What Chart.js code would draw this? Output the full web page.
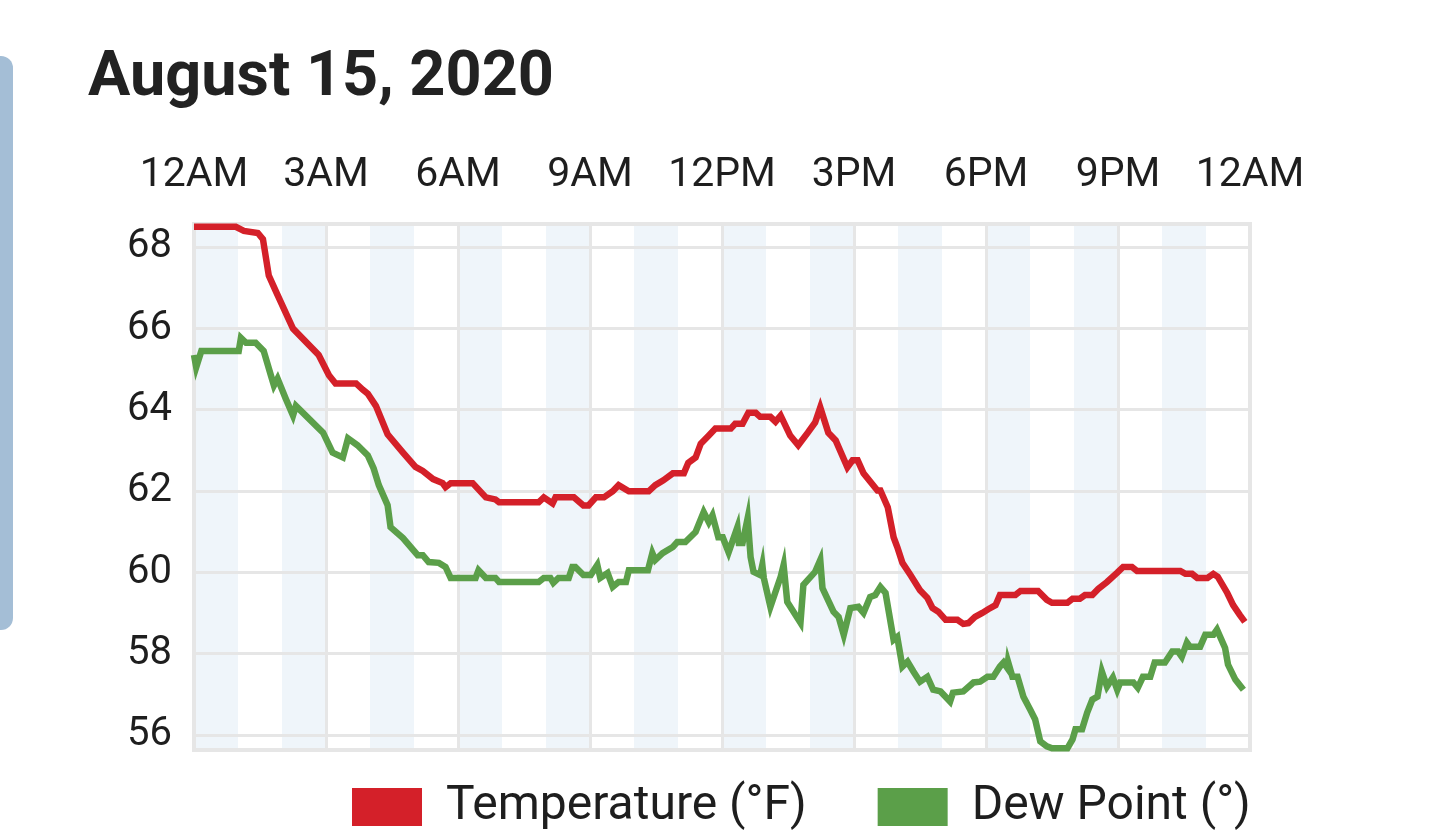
<!DOCTYPE html>
<html>
<head>
<meta charset="utf-8">
<script src="https://cdn.jsdelivr.net/npm/chart.js@4.4.1/dist/chart.umd.min.js"></script>
<style>
  html, body { margin: 0; padding: 0; background: #ffffff; width: 1436px; height: 838px; overflow: hidden; }
  #side { position: absolute; left: 0; top: 56px; width: 13px; height: 574px; background: #a4bed6; border-radius: 0 12px 12px 0; }
  #wrap { position: absolute; left: 0; top: 0; width: 1436px; height: 838px; }
  #title { position: absolute; left: 88px; top: 42px; margin: 0; font-family: Roboto, sans-serif; font-weight: 700; font-size: 63px; line-height: 63px; color: #222222; white-space: nowrap; z-index: 2; }
</style>
</head>
<body>
<div id="side"></div>
<div id="wrap"><canvas id="chart" width="1436" height="838"></canvas></div>
<h1 id="title">August 15, 2020</h1>
<script>
// X axis: minutes since midnight; tick labels every 3 hours
const tickLabels = ['12AM', '3AM', '6AM', '9AM', '12PM', '3PM', '6PM', '9PM', '12AM'];
const seriesNames = ['Temperature (°F)', 'Dew Point (°)'];
const seriesColors = ['#d42029', '#5b9f49'];

const tempMinutes = [0, 57, 68, 87, 94, 102, 112, 135, 170, 184,
  193, 221, 230, 237, 248, 264, 285, 302, 312, 326,
  339, 343, 350, 380, 398, 411, 416, 470, 477, 489,
  493, 518, 531, 538, 548, 559, 571, 579, 593, 620,
  629, 640, 653, 668, 674, 684, 691, 702, 711, 732,
  738, 748, 756, 766, 772, 786, 793, 800, 813, 824,
  837, 847, 854, 865, 875, 891, 898, 905, 913, 932,
  936, 946, 954, 959, 966, 977, 990, 1000, 1007, 1015,
  1025, 1041, 1049, 1056, 1065, 1075, 1083, 1093, 1099, 1120,
  1127, 1151, 1163, 1170, 1191, 1198, 1208, 1215, 1225, 1233,
  1245, 1259, 1267, 1279, 1286, 1345, 1352, 1361, 1368, 1382,
  1390, 1396, 1409, 1417, 1426, 1433];
const tempValues = [68.5, 68.5, 68.4, 68.35, 68.2, 67.3, 66.9, 66.0, 65.35, 64.85,
  64.65, 64.65, 64.5, 64.4, 64.1, 63.4, 62.95, 62.6, 62.5, 62.3,
  62.2, 62.1, 62.2, 62.2, 61.85, 61.8, 61.73, 61.73, 61.85, 61.7,
  61.85, 61.85, 61.65, 61.65, 61.85, 61.85, 62.0, 62.15, 62.0, 62.0,
  62.15, 62.27, 62.44, 62.44, 62.7, 62.83, 63.17, 63.37, 63.54, 63.54,
  63.66, 63.66, 63.93, 63.93, 63.83, 63.83, 63.71, 63.86, 63.37, 63.13,
  63.44, 63.69, 64.06, 63.44, 63.25, 62.59, 62.76, 62.76, 62.44, 62.02,
  62.02, 61.61, 60.87, 60.63, 60.24, 59.94, 59.57, 59.38, 59.13, 59.04,
  58.84, 58.84, 58.74, 58.76, 58.91, 59.01, 59.1, 59.2, 59.45, 59.45,
  59.55, 59.55, 59.33, 59.26, 59.26, 59.36, 59.36, 59.45, 59.45, 59.6,
  59.77, 60.0, 60.14, 60.14, 60.04, 60.04, 59.97, 59.97, 59.87, 59.87,
  59.97, 59.9, 59.5, 59.2, 58.96, 58.79];

const dewMinutes = [0, 3, 10, 61, 64, 71, 84, 95, 105, 109,
  114, 125, 135, 139, 176, 189, 203, 210, 223, 237,
  245, 252, 264, 268, 285, 305, 312, 320, 334, 343,
  350, 384, 388, 398, 411, 416, 470, 477, 486, 490,
  497, 511, 516, 520, 531, 541, 550, 554, 564, 571,
  579, 589, 593, 619, 625, 629, 639, 653, 659, 670,
  684, 695, 702, 707, 715, 721, 729, 741, 743, 748,
  755, 759, 763, 772, 775, 777, 786, 800, 804, 809,
  827, 831, 847, 854, 857, 872, 879, 886, 895, 906,
  913, 922, 929, 936, 943, 954, 959, 966, 973, 981,
  990, 1000, 1008, 1018, 1031, 1035, 1049, 1063, 1072, 1082,
  1090, 1099, 1104, 1109, 1110, 1116, 1123, 1131, 1140, 1147,
  1154, 1163, 1170, 1191, 1198, 1202, 1211, 1218, 1225, 1232,
  1238, 1245, 1253, 1259, 1263, 1281, 1287, 1294, 1304, 1310,
  1324, 1334, 1342, 1347, 1354, 1358, 1372, 1379, 1390, 1395,
  1406, 1410, 1420, 1431];
const dewValues = [65.35, 65.05, 65.45, 65.45, 65.77, 65.65, 65.65, 65.45, 64.84, 64.6,
  64.77, 64.28, 63.86, 64.1, 63.44, 62.95, 62.83, 63.3, 63.13, 62.88,
  62.56, 62.15, 61.66, 61.12, 60.85, 60.43, 60.43, 60.26, 60.24, 60.14,
  59.87, 59.87, 60.06, 59.87, 59.87, 59.77, 59.77, 59.87, 59.87, 59.75,
  59.87, 59.87, 60.14, 60.14, 59.94, 59.94, 60.19, 59.87, 59.99, 59.65,
  59.77, 59.77, 60.06, 60.06, 60.48, 60.31, 60.48, 60.63, 60.75, 60.75,
  61.0, 61.49, 61.24, 61.41, 60.87, 60.87, 60.5, 61.12, 60.73, 60.73,
  61.34, 60.38, 60.02, 59.94, 60.19, 59.87, 59.16, 59.9, 60.19, 59.28,
  58.77, 59.7, 60.02, 60.31, 59.62, 59.04, 58.91, 58.47, 59.13, 59.16,
  59.01, 59.4, 59.45, 59.65, 59.5, 58.35, 58.42, 57.69, 57.81, 57.57,
  57.32, 57.44, 57.12, 57.08, 56.83, 57.05, 57.08, 57.3, 57.32, 57.44,
  57.44, 57.69, 57.79, 57.66, 57.81, 57.44, 57.44, 56.95, 56.64, 56.39,
  55.85, 55.73, 55.68, 55.68, 55.9, 56.15, 56.15, 56.56, 56.88, 56.95,
  57.57, 57.2, 57.42, 57.12, 57.3, 57.3, 57.17, 57.44, 57.44, 57.79,
  57.79, 58.06, 58.06, 57.93, 58.28, 58.18, 58.18, 58.47, 58.47, 58.6,
  58.15, 57.74, 57.37, 57.12];

const toPoints = (xs, ys) => xs.map((x, i) => ({ x: x, y: ys[i] }));

const bandsPlugin = {
  id: 'bands',
  beforeDraw(chart) {
    const { ctx, chartArea: a, scales: { x } } = chart;
    ctx.save();
    ctx.fillStyle = '#eff5fa';
    for (let h = 0; h < 24; h += 2) {
      const x1 = x.getPixelForValue(h * 60);
      const x2 = x.getPixelForValue((h + 1) * 60);
      ctx.fillRect(x1, a.top, x2 - x1, a.bottom - a.top);
    }
    ctx.restore();
    // place the legend row
    const lg = chart.legend;
    if (lg) {
      lg.left = 281; lg.right = 1436; lg.top = 712; lg.bottom = 838;
    }
  },
  beforeDatasetsDraw(chart) {
    const { ctx, chartArea: a } = chart;
    ctx.save();
    ctx.strokeStyle = '#e6e6e6';
    ctx.lineWidth = 4;
    ctx.strokeRect(a.left, a.top, a.right - a.left, a.bottom - a.top);
    ctx.restore();
  }
};

const labelFont = { family: 'Roboto', size: 41 };

new Chart(document.getElementById('chart'), {
  type: 'line',
  data: {
    datasets: [
      { label: seriesNames[0], data: toPoints(tempMinutes, tempValues), borderColor: seriesColors[0], backgroundColor: seriesColors[0], borderWidth: 6.5, pointRadius: 0, tension: 0, clip: false },
      { label: seriesNames[1], data: toPoints(dewMinutes, dewValues), borderColor: seriesColors[1], backgroundColor: seriesColors[1], borderWidth: 6.5, pointRadius: 0, tension: 0, clip: false }
    ]
  },
  options: {
    responsive: false,
    animation: false,
    devicePixelRatio: 1,
    layout: { padding: { left: 0, right: 186, top: 130, bottom: 0 } },
    scales: {
      x: {
        type: 'linear', position: 'top', min: 0, max: 1440,
        afterFit: (s) => { s.height = 94; },
        ticks: { stepSize: 180, autoSkip: false, maxRotation: 0, minRotation: 0, padding: 24, color: '#1e1e1e', font: labelFont,
          callback: (v) => tickLabels[Math.round(v / 180)] },
        grid: { color: '#e6e6e6', lineWidth: 3, drawTicks: false },
        border: { display: false }
      },
      y: {
        min: 55.64, max: 68.57,
        afterFit: (s) => { s.width = 194; },
        ticks: { stepSize: 2, includeBounds: false, padding: 22, color: '#1e1e1e', font: { family: 'Roboto', size: 40 } },
        grid: { color: '#e6e6e6', lineWidth: 3, drawTicks: false },
        border: { display: false }
      }
    },
    plugins: {
      title: { display: false },
      tooltip: { enabled: false },
      legend: {
        position: 'bottom',
        align: 'start',
        maxHeight: 88,
        labels: {
          boxWidth: 70, boxHeight: 38, padding: 71, color: '#1e1e1e',
          font: { family: 'Roboto', size: 48 },
          generateLabels: (chart) => Chart.defaults.plugins.legend.labels.generateLabels(chart).map(it => Object.assign(it, { lineWidth: 0 }))
        }
      }
    }
  },
  plugins: [bandsPlugin]
});
</script>
</body>
</html>
